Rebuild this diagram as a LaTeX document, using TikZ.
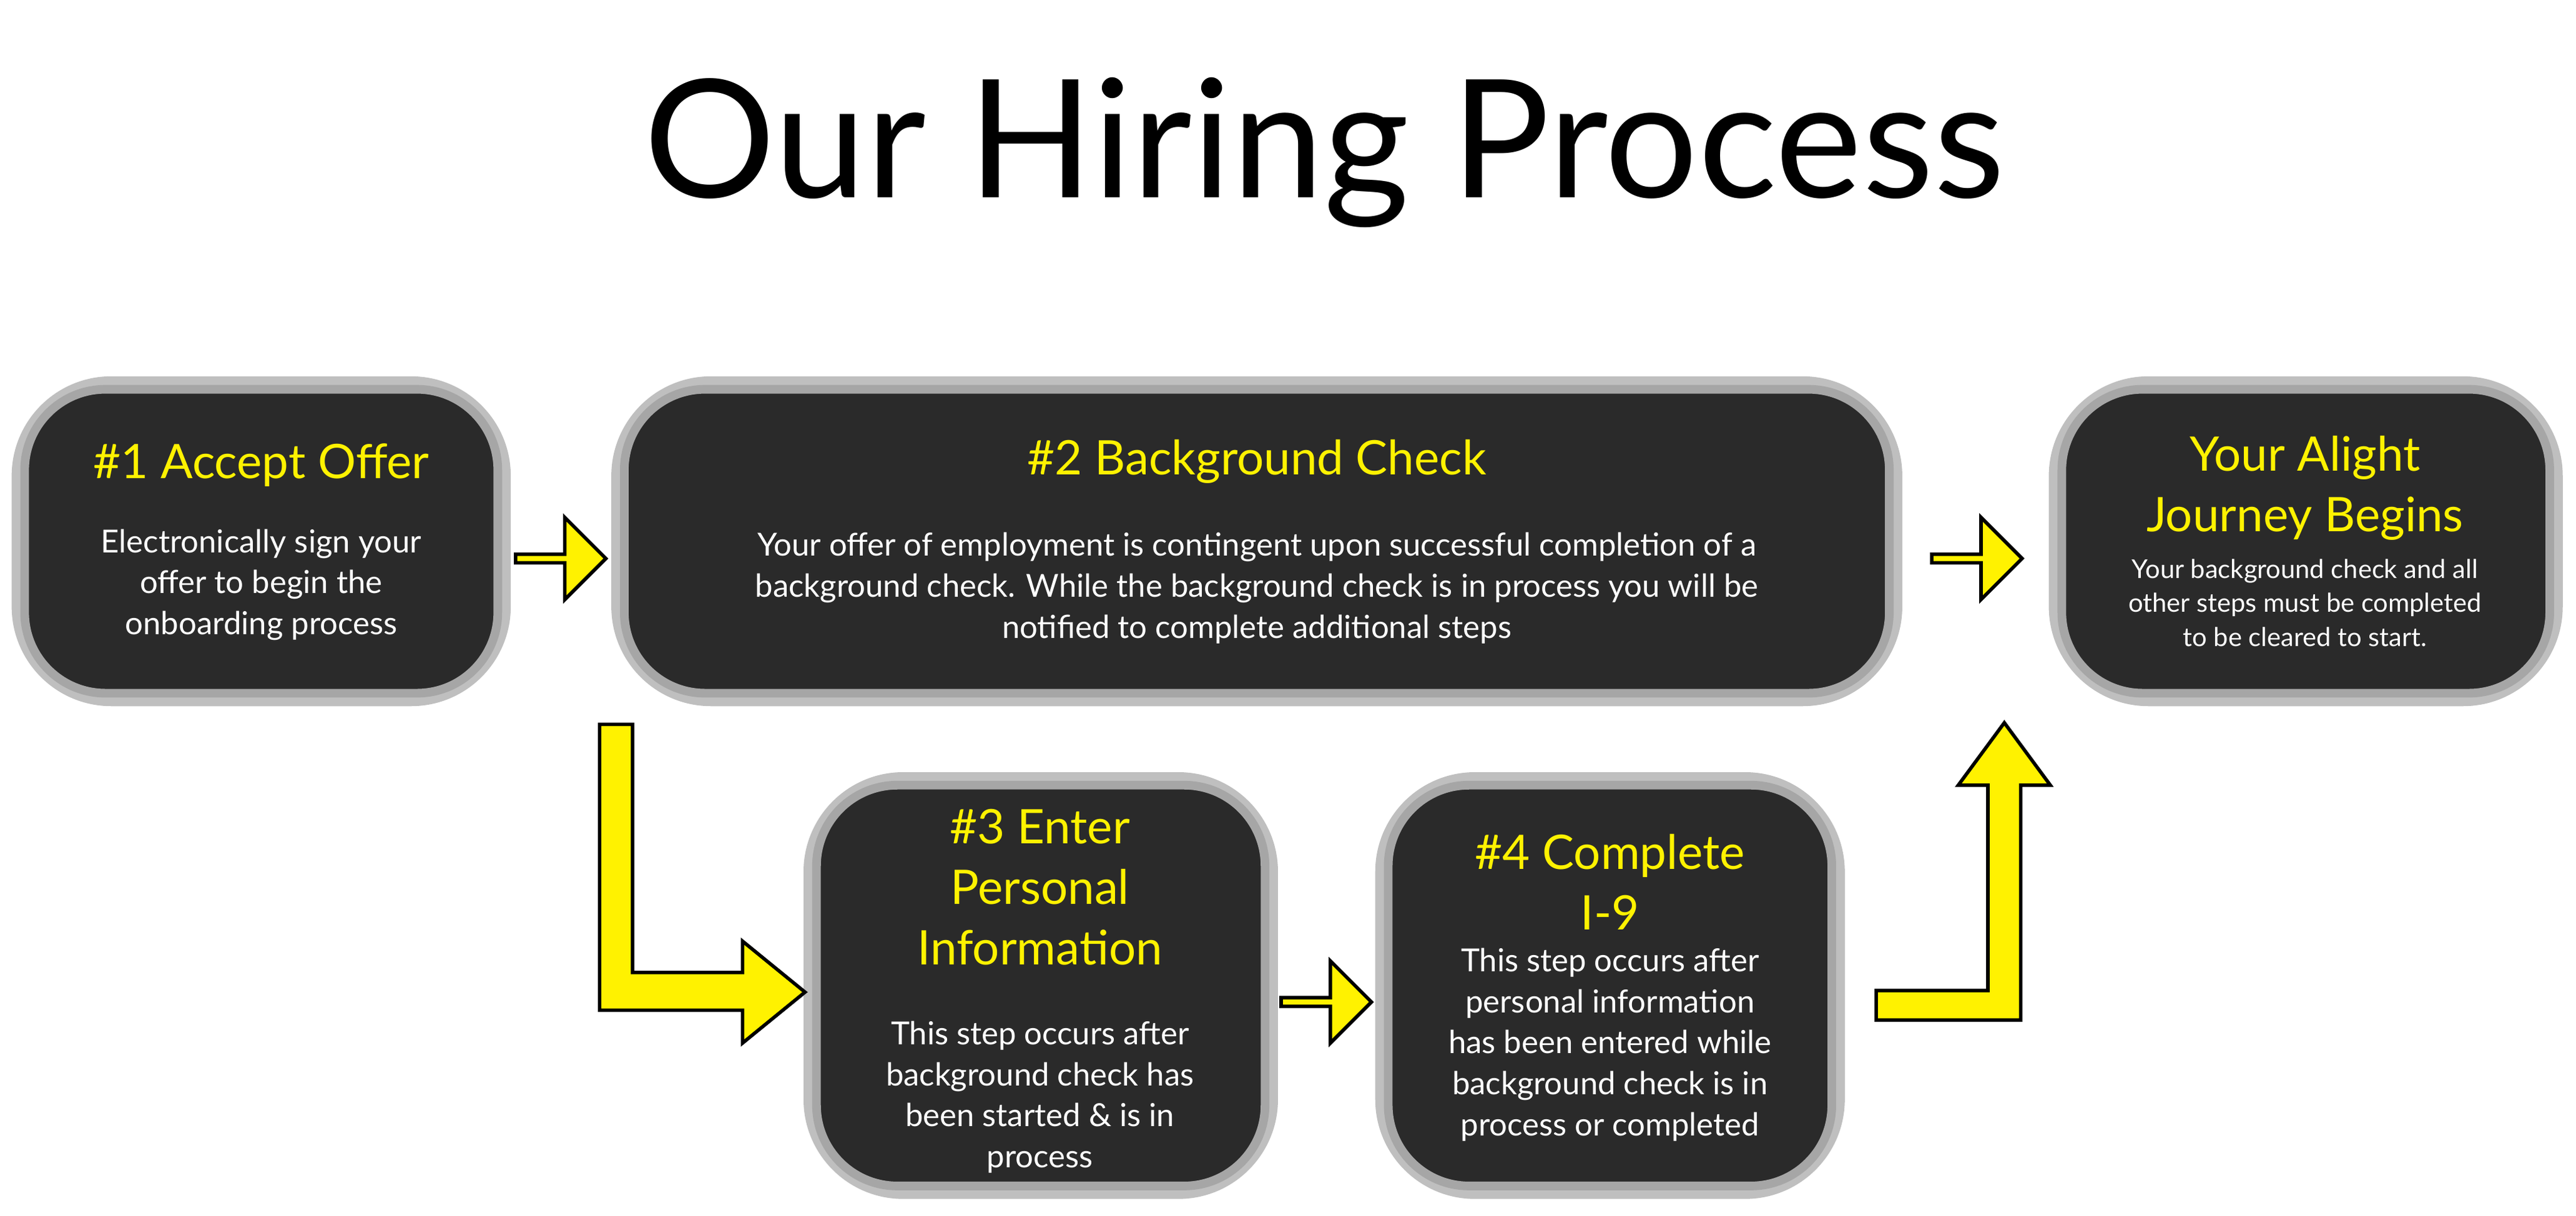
\documentclass[tikz,border=0pt]{standalone}
\usepackage{fontspec}
\setmainfont{Lato}
\usetikzlibrary{shapes.arrows}
\definecolor{boxfill}{HTML}{2A2A2A}
\definecolor{hl}{HTML}{FFF200}
\tikzset{
  card/.style={draw=gray!70, line width=3pt, fill=boxfill, rounded corners=28pt},
  glow/.style={draw=black!25, line width=9pt, rounded corners=30pt},
  head/.style={text=hl, font=\fontsize{16.5}{21}\selectfont, align=center},
  body/.style={text=white, font=\fontsize{11}{14.2}\selectfont, align=center},
  small/.style={text=white, font=\fontsize{9}{11.8}\selectfont, align=center},
  barrow/.style={single arrow, draw=black, line width=1.2pt, fill=hl, minimum height=1.1cm, minimum width=1.0cm, single arrow head extend=0.18cm, inner sep=0pt},
  larrow/.style={draw=black, line width=1.2pt, fill=hl},
}
\begin{document}
\begin{tikzpicture}[x=0.02cm,y=-0.02cm]
\useasboundingbox (0,0) rectangle (1568,740);
\node[font=\fontsize{57}{60}\selectfont, text=black] (title) at (806,93) {Our Hiring Process};
% boxes
\foreach \a/\b/\c/\d/\n in {15/237/303/422/b1, 380/237/1150/422/b2, 1255/237/1552/422/b5, 497/478/770/722/b3, 845/478/1115/722/b4}{
  \draw[glow] (\a,\b) rectangle (\c,\d);
  \draw[card] (\a,\b) rectangle (\c,\d);
}
\node[head] (h1) at (159,283) {\#1 Accept Offer};
\node[body] (t1) at (159,356) {Electronically sign your\\offer to begin the\\onboarding process};
\node[head] (h2) at (765,281) {\#2 Background Check};
\node[body] (t2) at (765,358) {Your offer of employment is contingent upon successful completion of a\\background check. While the background check is in process you will be\\notified to complete additional steps};
\node[head] (h5) at (1403,297) {Your Alight\\Journey Begins};
\node[small] (t5) at (1403,367) {Your background check and all\\other steps must be completed\\to be cleared to start.};
\node[head] (h3) at (633,540) {\#3 Enter\\Personal\\Information};
\node[body] (t3) at (633,668) {This step occurs after\\background check has\\been started \& is in\\process};
\node[head] (h4) at (980,537) {\#4 Complete\\I-9};
\node[body] (t4) at (980,636) {This step occurs after\\personal information\\has been entered while\\background check is in\\process or completed};
% straight arrows
\node[barrow] (a12) at (340,340) {};
\node[barrow] (a25) at (1202,340) {};
\node[barrow] (a34) at (806,610) {};
% L arrow 2 -> 3
\draw[larrow] (365,441) -- (385,441) -- (385,592) -- (452,592) -- (452,573) -- (490,604) -- (452,635) -- (452,615) -- (365,615) -- cycle;
% L arrow 4 -> 5
\draw[larrow] (1142,603) -- (1210,603) -- (1210,478) -- (1192,478) -- (1220,440) -- (1248,478) -- (1230,478) -- (1230,621) -- (1142,621) -- cycle;
\end{tikzpicture}
\end{document}
